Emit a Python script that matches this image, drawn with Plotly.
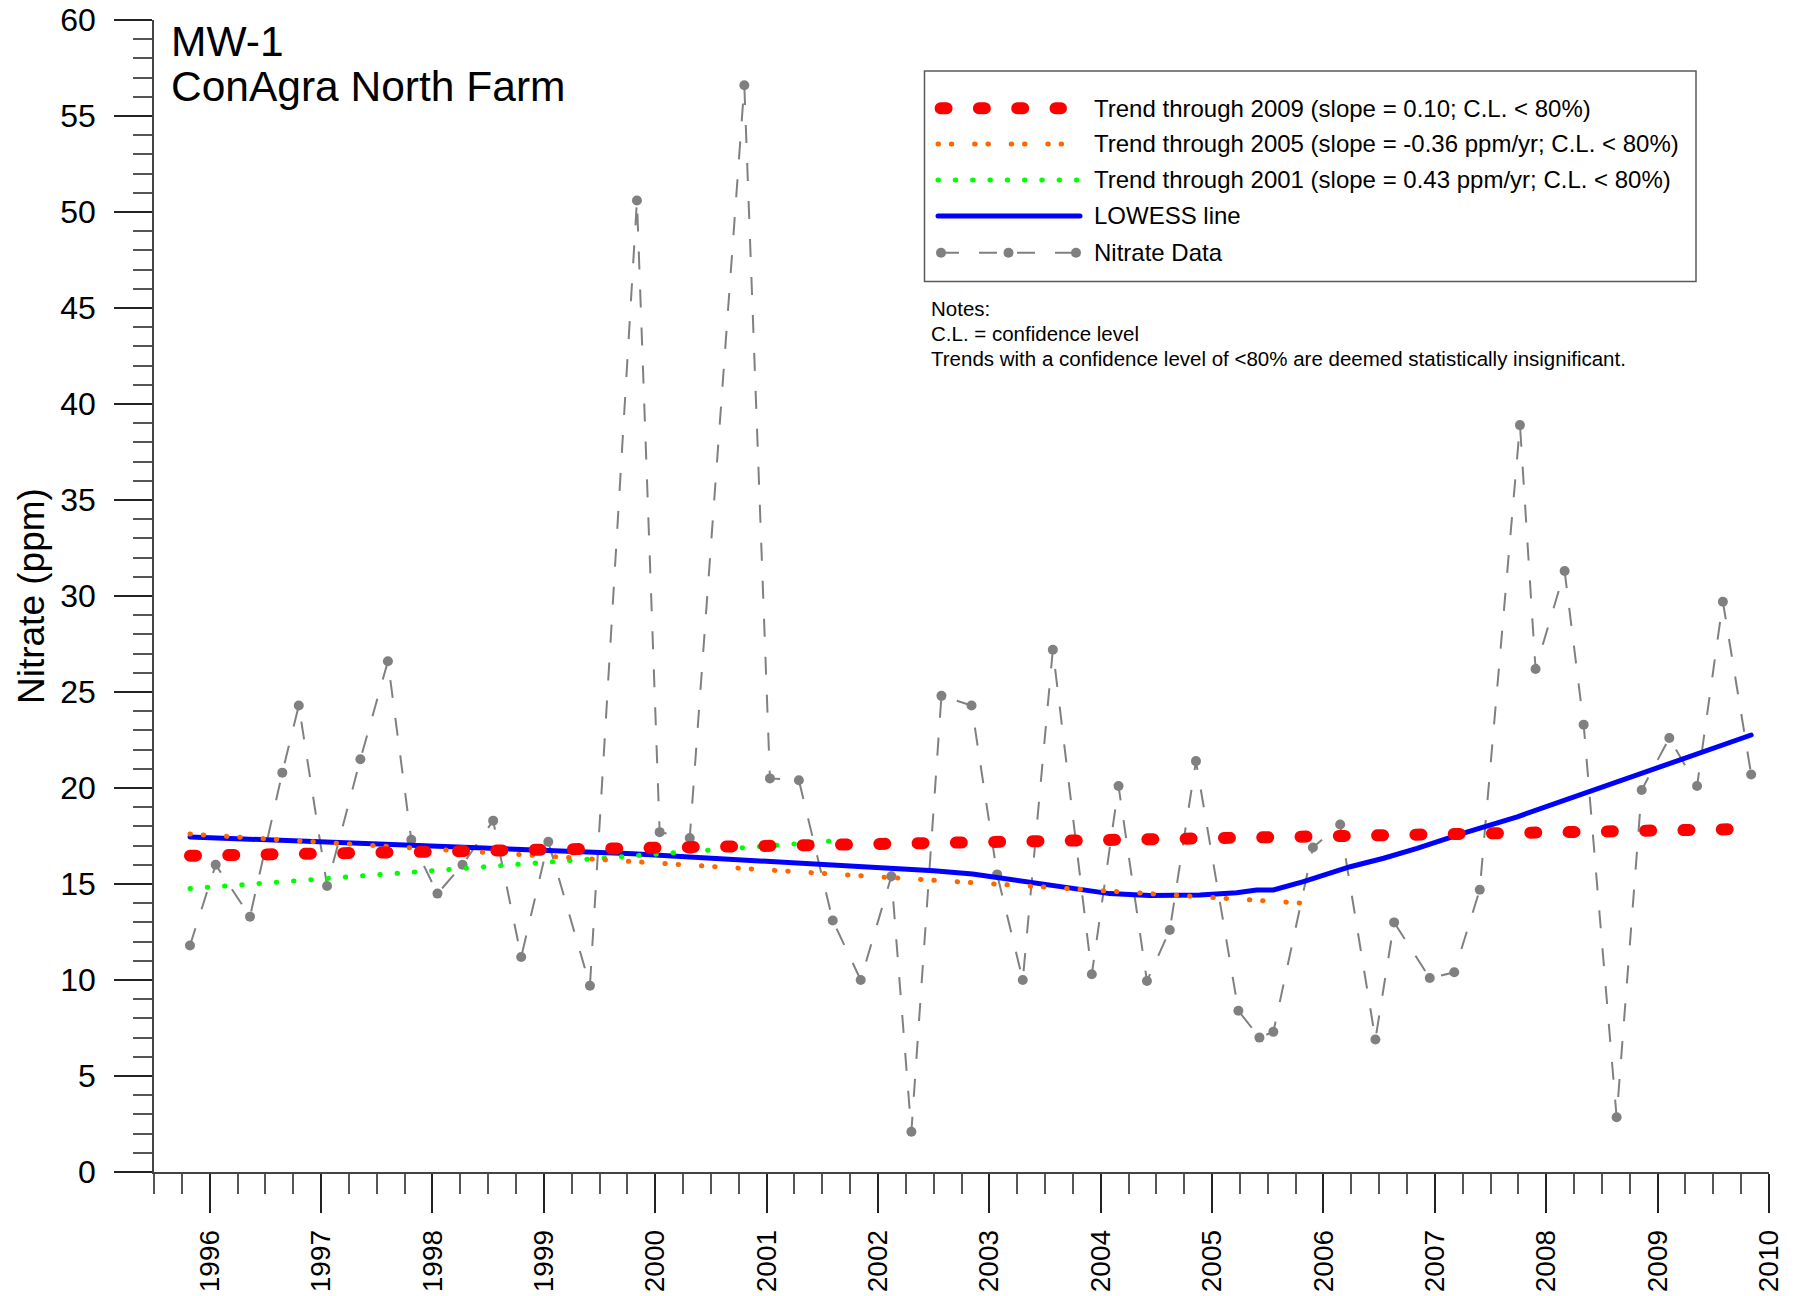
import plotly.graph_objects as go

# ---------------- data ----------------
sample_year = [1995.823, 1996.054, 1996.362, 1996.652, 1996.80, 1997.054, 1997.353, 1997.60,
               1997.81, 1998.045, 1998.27, 1998.545, 1998.797, 1999.04, 1999.414, 1999.836,
               2000.04, 2000.31, 2000.80, 2001.03, 2001.29, 2001.594, 2001.845, 2002.12,
               2002.30, 2002.57, 2002.84, 2003.07, 2003.30, 2003.57, 2003.92, 2004.16,
               2004.415, 2004.62, 2004.855, 2005.236, 2005.425, 2005.55, 2005.905, 2006.15,
               2006.466, 2006.634, 2006.954, 2007.174, 2007.403, 2007.764, 2007.904, 2008.165,
               2008.336, 2008.632, 2008.857, 2009.105, 2009.354, 2009.586, 2009.84]
nitrate_ppm = [11.8, 16.0, 13.3, 20.8, 24.3, 14.9, 21.5, 26.6,
               17.3, 14.5, 16.0, 18.3, 11.2, 17.2, 9.7, 50.6,
               17.7, 17.4, 56.6, 20.5, 20.4, 13.1, 10.0, 15.4,
               2.1, 24.8, 24.3, 15.5, 10.0, 27.2, 10.3, 20.1,
               9.95, 12.6, 21.4, 8.4, 7.0, 7.3, 16.9, 18.1,
               6.9, 13.0, 10.1, 10.4, 14.7, 38.9, 26.2, 31.3,
               23.3, 2.85, 19.9, 22.6, 20.1, 29.7, 20.7]

lowess_year = [1995.823, 1996.8, 1997.8, 1998.8, 1999.8, 2000.5, 2001.3, 2002.1, 2002.5,
               2002.85, 2003.24, 2003.69, 2004.08, 2004.44, 2004.89, 2005.22, 2005.40,
               2005.55, 2005.82, 2006.24, 2006.54, 2006.84, 2007.25, 2007.74, 2008.18,
               2008.63, 2008.93, 2009.38, 2009.84]
lowess_ppm = [17.45, 17.25, 17.02, 16.8, 16.57, 16.35, 16.1, 15.87, 15.69,
              15.52, 15.2, 14.77, 14.5, 14.4, 14.43, 14.55, 14.69,
              14.69, 15.12, 15.9, 16.34, 16.86, 17.64, 18.5, 19.38,
              20.33, 20.94, 21.8, 22.76]

trend2009_year = [1995.823, 2009.84]
trend2009_ppm = [16.47, 17.87]
trend2005_year = [1995.823, 2005.905]
trend2005_ppm = [17.6, 13.97]
trend2001_year = [1995.823, 2001.6]
trend2001_ppm = [14.76, 17.24]

year_ticks = list(range(1996, 2011))
year_labels = [str(y) for y in year_ticks]
ppm_ticks = list(range(0, 61, 5))
ppm_labels = [str(v) for v in ppm_ticks]

legend_labels = ["Trend through 2009 (slope = 0.10; C.L. < 80%)",
                 "Trend through 2005 (slope = -0.36 ppm/yr; C.L. < 80%)",
                 "Trend through 2001 (slope = 0.43 ppm/yr; C.L. < 80%)",
                 "LOWESS line",
                 "Nitrate Data"]
notes_lines = ["Notes:", "C.L. = confidence level",
               "Trends with a confidence level of <80% are deemed statistically insignificant."]
title_lines = ["MW-1", "ConAgra North Farm"]
y_title = "Nitrate (ppm)"

# ---------------- styles ----------------
FONT = "Arial, Liberation Sans, sans-serif"
GRAY = "#808080"
RED = "#FF0000"
ORANGE = "#FF6600"
GREEN = "#00FF00"
BLUE = "#0000FF"

W, H = 1799, 1296
L, R, T, B = 154, 1769, 20, 1172


def px(x):
    return (x - L) / (R - L)


def py(y):
    return (B - y) / (B - T)


fig = go.Figure()

fig.add_trace(go.Scatter(x=sample_year, y=nitrate_ppm, mode="lines+markers",
                         line=dict(color=GRAY, width=2, dash="18px,20px"),
                         marker=dict(color=GRAY, size=10), name=legend_labels[4]))
fig.add_trace(go.Scatter(x=lowess_year, y=lowess_ppm, mode="lines",
                         line=dict(color=BLUE, width=5), name=legend_labels[3]))
fig.add_trace(go.Scatter(x=trend2001_year, y=trend2001_ppm, mode="lines",
                         line=dict(color=GREEN, width=5, dash="0.5px,16.8px"), name=legend_labels[2]))
fig.add_trace(go.Scatter(x=trend2005_year, y=trend2005_ppm, mode="lines",
                         line=dict(color=ORANGE, width=5, dash="0.5px,12.8px,0.5px,22.8px"),
                         name=legend_labels[1]))
fig.add_trace(go.Scatter(x=trend2009_year, y=trend2009_ppm, mode="lines",
                         line=dict(color=RED, width=12, dash="6px,32.3px"), name=legend_labels[0]))

shapes = []
annotations = []

# legend box
shapes.append(dict(type="rect", xref="paper", yref="paper",
                   x0=px(924.5), x1=px(1696), y0=py(281.5), y1=py(71),
                   line=dict(color="#5a5a5a", width=1.5), fillcolor="rgba(0,0,0,0)"))

row_y = [108.3, 144, 180, 216, 252.7]
sample_styles = [
    (940.6, 1061, RED, 12, "6px,32.3px"),
    (938, 1064, ORANGE, 5, "0.5px,12.8px,0.5px,22.8px"),
    (938, 1079, GREEN, 5, "0.5px,16.8px"),
    (938, 1080, BLUE, 5, "solid"),
    (941, 1076, GRAY, 2, "18px,20px"),
]
for (x0, x1, col, w, dash), yy in zip(sample_styles, row_y):
    shapes.append(dict(type="line", xref="paper", yref="paper",
                       x0=px(x0), x1=px(x1), y0=py(yy), y1=py(yy),
                       line=dict(color=col, width=w, dash=dash)))
for cx in (941, 1008.5, 1076):
    shapes.append(dict(type="circle", xref="paper", yref="paper",
                       x0=px(cx - 5), x1=px(cx + 5), y0=py(row_y[4] + 5), y1=py(row_y[4] - 5),
                       fillcolor=GRAY, line=dict(width=0)))

for lab, yy in zip(legend_labels, row_y):
    annotations.append(dict(text=lab, xref="paper", yref="paper", x=px(1092), y=py(yy),
                            xanchor="left", yanchor="middle", showarrow=False,
                            font=dict(family=FONT, size=24, color="black")))

for txt, yy in zip(notes_lines, [308.5, 333.5, 358]):
    annotations.append(dict(text=txt, xref="paper", yref="paper", x=px(929), y=py(yy),
                            xanchor="left", yanchor="middle", showarrow=False,
                            font=dict(family=FONT, size=20.5, color="black")))

for txt, yy in zip(title_lines, [41.5, 86.5]):
    annotations.append(dict(text=txt, xref="paper", yref="paper", x=px(169), y=py(yy),
                            xanchor="left", yanchor="middle", showarrow=False,
                            font=dict(family=FONT, size=42.5, color="black")))

annotations.append(dict(text=y_title, xref="paper", yref="paper", x=px(31), y=py(596),
                        xanchor="center", yanchor="middle", textangle=-90, showarrow=False,
                        font=dict(family=FONT, size=37, color="black")))

fig.update_layout(
    width=W, height=H,
    margin=dict(l=L, r=W - R, t=T, b=H - B, pad=0, autoexpand=False),
    paper_bgcolor="white", plot_bgcolor="white",
    showlegend=False,
    font=dict(family=FONT, color="black"),
    shapes=shapes, annotations=annotations,
    xaxis=dict(range=[1995.5, 2010], tickmode="array", tickvals=year_ticks, ticktext=year_labels,
               tickangle=-90, ticks="outside", ticklen=39, tickwidth=1.5, tickcolor="#222222",
               showline=True, linecolor="#444444", linewidth=1.5, showgrid=False, zeroline=False,
               automargin=False,
               tickfont=dict(family=FONT, size=28, color="black"), ticklabelstandoff=6,
               minor=dict(ticks="outside", ticklen=20, tickwidth=1.5, tickcolor="#555555",
                          tick0=1995.5, dtick=0.25, showgrid=False)),
    yaxis=dict(range=[0, 60], tickmode="array", tickvals=ppm_ticks, ticktext=ppm_labels,
               ticks="outside", ticklen=38, tickwidth=1.5, tickcolor="#222222",
               showline=True, linecolor="#444444", linewidth=1.5, showgrid=False, zeroline=False,
               automargin=False,
               tickfont=dict(family=FONT, size=32, color="black"), ticklabelstandoff=12,
               minor=dict(ticks="outside", ticklen=19, tickwidth=1.5, tickcolor="#555555",
                          tick0=0, dtick=1, showgrid=False)),
)

post = """
document.documentElement.style.margin = '0';
document.body.style.margin = '0';
document.body.style.padding = '0';
document.body.style.overflow = 'hidden';
var gd = document.getElementById('{plot_id}');
function rc(){
  var els = gd.querySelectorAll('path.js-line, .shapelayer path');
  els.forEach(function(p){
    var s = (p.style.stroke || '');
    if (s.indexOf('128, 128, 128') === -1) { p.style.strokeLinecap = 'round'; }
  });
}
rc(); setTimeout(rc, 50); setTimeout(rc, 300);
if (gd.on) { gd.on('plotly_afterplot', rc); }
"""

fig.write_html("out.html", post_script=post, config={"displayModeBar": False})
